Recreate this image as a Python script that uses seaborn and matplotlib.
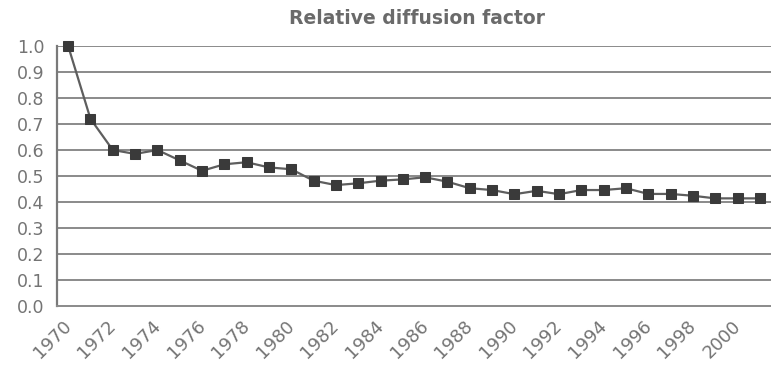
import matplotlib
matplotlib.use("Agg")
import matplotlib.pyplot as plt
import matplotlib.transforms as mtransforms
import numpy as np
import pandas as pd
import seaborn as sns

years = list(range(1970, 2002))
diffusion = [1.00, 0.72, 0.60, 0.585, 0.60, 0.56, 0.52, 0.545, 0.553, 0.533,
             0.526, 0.482, 0.465, 0.472, 0.482, 0.487, 0.495, 0.478, 0.453, 0.446,
             0.430, 0.443, 0.430, 0.446, 0.446, 0.453, 0.431, 0.431, 0.424, 0.414,
             0.414, 0.414]
title = "Relative diffusion factor"

df = pd.DataFrame({"year": years, "factor": diffusion})

sns.set_style("white")
plt.rcParams["font.family"] = ["DejaVu Sans"]

fig = plt.figure(figsize=(7.71, 3.66), dpi=100)
ax = fig.add_axes([57 / 771, 1 - 306 / 366, 1 - 57 / 771, 260 / 366])

# horizontal grid
for v in np.arange(0.1, 1.01, 0.1):
    ax.axhline(v, color="#8a8a8a", lw=1.4, zorder=0)

sns.lineplot(data=df, x="year", y="factor", ax=ax, color="#5e5e5e", lw=1.6,
             marker="s", markersize=7.5, markerfacecolor="#3a3a3a",
             markeredgecolor="#3a3a3a", zorder=3, clip_on=False)

ax.set_xlim(years[0] - 0.5, years[-1] + 0.5)
ax.set_ylim(0, 1.0)
ax.set_xlabel("")
ax.set_ylabel("")

ax.set_yticks(np.round(np.arange(0, 1.01, 0.1), 1))
ax.set_yticklabels([f"{v:.1f}" for v in np.arange(0, 1.01, 0.1)])

ax.set_xticks(years[::2])
ax.set_xticklabels([str(y) for y in years[::2]], rotation=45, ha="right",
                   va="top", rotation_mode="anchor")
ax.set_xticks(np.arange(years[0] - 0.5, years[-1] + 1.0, 1), minor=True)

ax.tick_params(axis="y", which="major", length=5, width=1.2, color="#777777",
               labelsize=12.5, labelcolor="#747474", pad=4)
ax.tick_params(axis="x", which="major", length=0, labelsize=13,
               labelcolor="#747474", pad=8)
ax.tick_params(axis="x", which="minor", length=3, width=1, color="#999999",
               direction="out")

# nudge the slanted year labels slightly left
shift = mtransforms.ScaledTranslation(-6 / 100, 0, fig.dpi_scale_trans)
for lab in ax.get_xticklabels():
    lab.set_transform(lab.get_transform() + shift)

for s in ["top", "right"]:
    ax.spines[s].set_visible(False)
ax.spines["left"].set_color("#7a7a7a")
ax.spines["left"].set_linewidth(1.6)
ax.spines["bottom"].set_color("#8a8a8a")
ax.spines["bottom"].set_linewidth(1.4)

fig.text(417 / 771, 1 - 19 / 366, title, ha="center", va="center",
         fontsize=13.5, fontweight="bold", color="#6a6a6a")

fig.savefig("out.png", dpi=100, facecolor="white")
